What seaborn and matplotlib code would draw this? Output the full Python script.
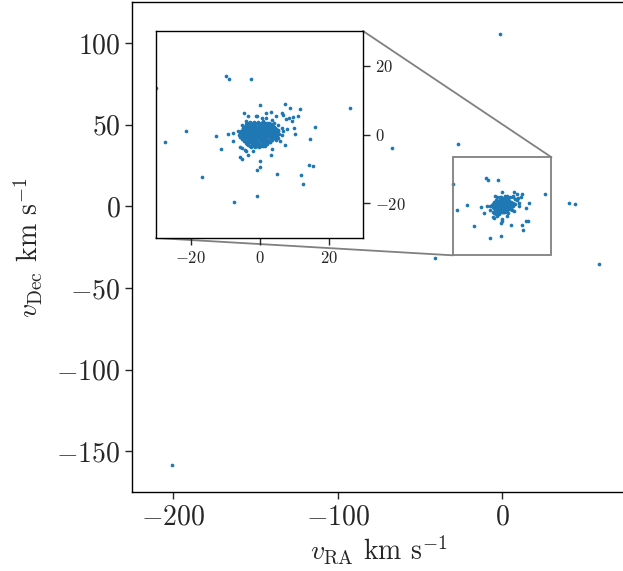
import matplotlib
matplotlib.use("Agg")
import matplotlib.pyplot as plt
from matplotlib.patches import ConnectionPatch
import seaborn as sns
import pandas as pd

# Proper motions converted to velocities (km/s): far outliers
outer_ra = [-200.6, -66.7, -27.0, -1.0, 40.7, 44.1, -40.7, 58.7]
outer_dec = [-158.6, 35.7, 38.0, 105.6, 2.1, 1.5, -31.8, -35.5]

# Stars inside the +/-30 km/s window but outside the core
halo_ra = [-29.9, -9.8, -8.8, -2.6, 26.2, -21.2, -27.4, -16.8, -7.3, -0.8,
           -12.6, -11.1, 16.2, 14.6, 5.2, 12.1, 12.6, 14.3, 15.5, 0.1,
           0.2, -0.6, -4.4, -3.3, -1.1, -0.6, 0.2, 1.8, 3.2, 0.7,
           4.9, 6.4, 6.7, 7.4, 8.9, 11.8, 11.2, 9.8, 7.8, 8.6,
           9.3, 10.0, 8.1, 10.3, 7.3, 5.9, 4.9, 3.5, 3.2, -9.1,
           -7.6, -7.6, -6.2, -5.7, -5.7, -5.2, -5.7, -5.2, -4.3, -3.2,
           -1.8, -3.8, -5.1, -4.7, -3.8, 2.0, 3.5, 4.2, 5.4, 6.4,
           6.9, 6.4, 5.4]
halo_dec = [13.6, 17.1, 16.1, 16.1, 7.8, 0.9, -2.3, -12.3, -19.7, -17.9,
            -0.3, -4.2, 2.1, -1.2, -11.5, -11.7, -14.4, -8.9, -9.1, -7.8,
            -9.3, -10.2, 6.2, 5.5, 5.5, 5.5, 8.6, 6.2, 6.4, 4.9,
            5.5, 6.2, 5.7, 8.8, 7.8, 7.3, 5.5, 5.2, 4.5, 4.7,
            3.8, 2.0, 1.6, 0.1, -3.0, -2.0, -1.5, -4.2, -5.9, 0.1,
            0.4, -2.0, 0.9, -0.6, -3.5, -4.0, -6.4, -7.1, -4.4, -5.9,
            -4.7, -4.9, 2.8, 1.8, 3.8, 4.7, 4.3, 3.3, 2.8, 1.8,
            0.9, -0.1, -1.1]

# Dense cluster core
core_ra = [-2.8, -1.5, -0.3, 1.0, 2.3,
           -3.9, -2.6, -1.4, -0.2, 0.9, 2.1, 3.3,
           -4.4, -3.2, -2.0, -0.8, 0.3, 1.5, 2.7, 3.9,
           -4.9, -3.7, -2.5, -1.3, -0.1, 1.1, 2.3, 3.5, 4.6,
           -5.3, -4.1, -2.9, -1.8, -0.6, 0.6, 1.8, 3.0, 4.2, 5.3,
           -5.6, -4.4, -3.3, -2.1, -1.0, 0.2, 1.3, 2.5, 3.7, 4.8,
           -5.8, -4.7, -3.5, -2.4, -1.2, -0.1, 1.1, 2.2, 3.4, 4.5, 5.6,
           -5.5, -4.3, -3.2, -2.0, -0.9, 0.3, 1.4, 2.6, 3.8, 4.9,
           -5.1, -3.9, -2.8, -1.6, -0.5, 0.7, 1.9, 3.0, 4.1,
           -4.6, -3.4, -2.3, -1.1, 0.1, 1.2, 2.4, 3.5,
           -4.0, -2.9, -1.7, -0.6, 0.6, 1.7, 2.9,
           -3.3, -2.2, -1.0, 0.1, 1.2, 2.3,
           -2.4, -1.3, -0.2, 0.9,
           -3.3, -2.0, -0.8, 0.4, 1.6, 2.8,
           -3.8, -2.6, -1.4, -0.2, 1.0, 2.2, 3.4,
           -4.3, -3.1, -1.9, -0.7, 0.5, 1.7, 2.9, 4.1,
           -4.7, -3.5, -2.3, -1.2, 0.0, 1.2, 2.4, 3.6, 4.8,
           -5.0, -3.8, -2.7, -1.5, -0.4, 0.9, 2.0, 3.2, 4.3, 5.5,
           -5.2, -4.1, -2.9, -1.8, -0.6, 0.6, 1.7, 2.9, 4.0, 5.2,
           -5.1, -4.0, -2.8, -1.7, -0.5, 0.6, 1.8, 2.9, 4.1, 5.2,
           -4.9, -3.7, -2.6, -1.4, -0.3, 0.9, 2.0, 3.2, 4.4,
           -4.5, -3.3, -2.2, -1.0, 0.1, 1.3, 2.5, 3.6,
           -4.0, -2.8, -1.7, -0.5, 0.6, 1.8, 2.9,
           -3.5, -2.3, -1.2, -0.1, 1.0, 2.1,
           -2.8, -1.7, -0.6, 0.5, 1.6]
core_dec = [3.5, 3.7, 3.6, 3.8, 3.4,
            2.9, 3.1, 2.9, 3.0, 3.2, 2.9, 3.1,
            2.3, 2.5, 2.4, 2.3, 2.5, 2.4, 2.6, 2.5,
            1.7, 1.9, 1.8, 1.7, 1.9, 1.8, 1.7, 1.9, 2.0,
            1.1, 1.3, 1.2, 1.1, 1.3, 1.2, 1.1, 1.3, 1.2, 1.4,
            0.5, 0.7, 0.6, 0.5, 0.7, 0.6, 0.5, 0.7, 0.6, 0.8,
            -0.1, 0.1, 0.0, -0.1, 0.1, 0.0, -0.1, 0.1, 0.0, 0.2, 0.1,
            -0.7, -0.5, -0.6, -0.7, -0.5, -0.6, -0.7, -0.5, -0.6, -0.4,
            -1.3, -1.1, -1.2, -1.3, -1.1, -1.2, -1.3, -1.1, -1.0,
            -1.9, -1.7, -1.8, -1.9, -1.7, -1.8, -1.9, -1.7,
            -2.5, -2.3, -2.4, -2.5, -2.3, -2.4, -2.2,
            -3.1, -2.9, -3.0, -3.1, -2.9, -2.8,
            -3.7, -3.5, -3.6, -3.4,
            3.3, 3.2, 3.4, 3.3, 3.2, 3.4,
            2.7, 2.8, 2.6, 2.7, 2.8, 2.6, 2.8,
            2.1, 2.0, 2.2, 2.1, 2.0, 2.2, 2.1, 2.2,
            1.5, 1.4, 1.6, 1.5, 1.4, 1.6, 1.5, 1.4, 1.6,
            0.9, 0.8, 1.0, 0.9, 0.8, 1.0, 0.9, 0.8, 1.0, 0.9,
            0.3, 0.2, 0.4, 0.3, 0.2, 0.4, 0.3, 0.2, 0.4, 0.3,
            -0.3, -0.4, -0.2, -0.3, -0.4, -0.2, -0.3, -0.4, -0.2, -0.3,
            -0.9, -1.0, -0.8, -0.9, -1.0, -0.8, -0.9, -1.0, -0.8,
            -1.5, -1.6, -1.4, -1.5, -1.6, -1.4, -1.5, -1.4,
            -2.1, -2.2, -2.0, -2.1, -2.2, -2.0, -2.1,
            -2.7, -2.8, -2.6, -2.7, -2.8, -2.6,
            -3.3, -3.4, -3.2, -3.3, -3.2]

# Zoom window (km/s)
zoom_lim = [-30, 30]

df = pd.DataFrame({
    "vra": outer_ra + halo_ra + core_ra,
    "vdec": outer_dec + halo_dec + core_dec,
})

sns.set_style("ticks")
plt.rcParams.update({
    "font.family": "serif",
    "font.serif": ["cmr10"],
    "mathtext.fontset": "cm",
    "axes.formatter.use_mathtext": True,
    "axes.unicode_minus": True,
    "axes.linewidth": 1.0,
    "xtick.major.size": 4.8,
    "ytick.major.size": 4.8,
    "xtick.major.width": 1.0,
    "ytick.major.width": 1.0,
    "xtick.direction": "out",
    "ytick.direction": "out",
    "axes.edgecolor": "black",
})

W, H = 623, 571
AX_W, AX_H = 493.5, 490.3
fig = plt.figure(figsize=(W / 100, H / 100), dpi=100)
ax = fig.add_axes([132 / W, 1 - 492.3 / H, AX_W / W, AX_H / H])

color = "#1f77b4"
sns.scatterplot(data=df, x="vra", y="vdec", ax=ax, s=7, linewidth=0,
                color=color, legend=False)
ax.set_xlim(-225, 75)
ax.set_ylim(-175, 125)
ax.set_xticks([-200, -100, 0])
ax.set_yticks([-150, -100, -50, 0, 50, 100])
ax.tick_params(labelsize=20)
ax.set_xlabel(r"$v_{\rm RA}$ km s$^{-1}$", fontsize=20, labelpad=2)
ax.set_ylabel(r"$v_{\rm Dec}$ km s$^{-1}$", fontsize=20, labelpad=8)

# Zoomed view of the cluster core
axins = ax.inset_axes([(156 - 132) / AX_W, (492.3 - 238) / AX_H,
                       207 / AX_W, 207 / AX_H])
sns.scatterplot(data=df, x="vra", y="vdec", ax=axins, s=7, linewidth=0,
                color=color, legend=False)
axins.set_xlim(*zoom_lim)
axins.set_ylim(*zoom_lim)
axins.set_xticks([-20, 0, 20])
axins.set_yticks([-20, 0, 20])
axins.yaxis.tick_right()
axins.tick_params(labelsize=12)
axins.set_xlabel("")
axins.set_ylabel("")
for sp in axins.spines.values():
    sp.set_visible(True)

ind = ax.indicate_inset_zoom(axins, edgecolor="0.5", alpha=1, linewidth=1.3)
for c in ind.connectors:
    c.set_visible(False)

# Connector lines from the inset corners to the zoom box
for corner, target in [((0, 0), (zoom_lim[0], zoom_lim[0])),
                       ((1, 1), (zoom_lim[1], zoom_lim[1]))]:
    con = ConnectionPatch(xyA=corner, coordsA=axins.transAxes,
                          xyB=target, coordsB=ax.transData,
                          color="0.5", linewidth=1.3)
    ax.add_artist(con)

fig.savefig("out.png", dpi=100)
